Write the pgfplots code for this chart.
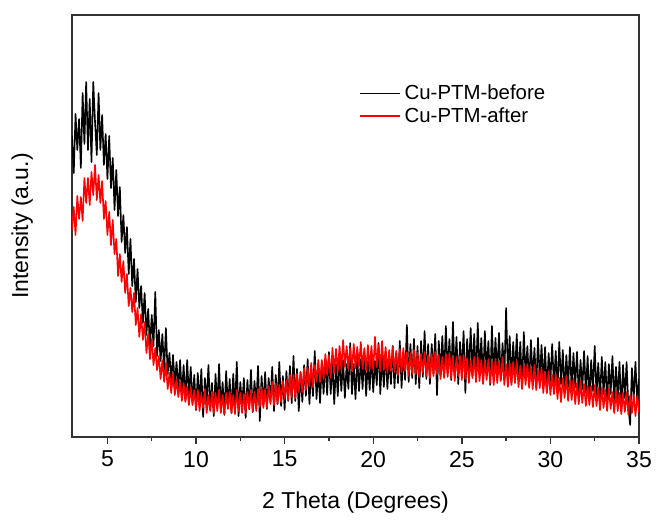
\documentclass[border=0pt]{standalone}
\usepackage{pgfplots}
\usepackage{pgfplotstable}
\usepackage{fontspec}
\setmainfont{Liberation Sans}
\pgfplotsset{compat=1.18}

% 2theta, before, after (intensity in arbitrary units)
\pgfplotstableread{
x b r
3.0 301 207
3.1 264 230
3.2 323 202
3.3 287 241
3.4 318 218
3.5 269 240
3.6 344 216
3.7 293 259
3.8 355 234
3.9 287 259
4.0 338 232
4.1 275 265
4.2 355 242
4.3 315 272
4.4 282 237
4.5 344 262
4.6 287 234
4.7 322 256
4.8 272 218
4.9 303 236
5.0 258 202
5.1 301 225
5.2 249 192
5.3 279 217
5.4 227 183
5.5 267 198
5.6 221 161
5.7 250 183
5.8 195 155
5.9 222 176
6.0 184 144
6.1 210 163
6.2 163 131
6.3 198 149
6.4 151 125
6.5 178 144
6.6 135 112
6.7 168 129
6.8 129 100
6.9 151 123
7.0 114 97
7.1 144 115
7.2 102 84
7.3 128 103
7.4 90 78
7.5 122 98
7.6 91 72
7.7 145 89
7.8 81 67
7.9 107 81
8.0 76 58
8.1 103 77
8.2 67 55
8.3 109 74
8.4 63 48
8.5 84 64
8.6 55 44
8.7 82 63
8.8 53 42
8.9 75 58
9.0 47 40
9.1 77 55
9.2 42 36
9.3 72 54
9.4 36 35
9.5 77 50
9.6 40 32
9.7 70 50
9.8 34 32
9.9 62 47
10.0 27 28
10.1 64 47
10.2 33 26
10.3 68 43
10.4 20 29
10.5 59 48
10.6 34 24
10.7 72 42
10.8 27 26
10.9 54 45
11.0 21 24
11.1 63 44
11.2 29 26
11.3 73 47
11.4 28 24
11.5 55 42
11.6 22 23
11.7 66 44
11.8 30 28
11.9 58 45
12.0 24 24
12.1 63 42
12.2 28 23
12.3 75 47
12.4 21 26
12.5 55 44
12.6 31 24
12.7 59 43
12.8 19 24
12.9 57 45
13.0 28 28
13.1 67 47
13.2 25 26
13.3 56 45
13.4 32 26
13.5 71 48
13.6 16 30
13.7 61 50
13.8 31 29
13.9 65 48
14.0 28 29
14.1 59 51
14.2 35 33
14.3 70 55
14.4 26 32
14.5 62 53
14.6 33 33
14.7 75 52
14.8 31 35
14.9 61 56
15.0 27 38
15.1 66 57
15.2 36 37
15.3 71 62
15.4 34 40
15.5 81 62
15.6 36 39
15.7 68 63
15.8 26 45
15.9 65 65
16.0 35 45
16.1 72 69
16.2 41 47
16.3 78 69
16.4 33 51
16.5 69 74
16.6 41 50
16.7 86 72
16.8 38 55
16.9 69 77
17.0 34 55
17.1 74 77
17.2 43 58
17.3 78 83
17.4 42 62
17.5 85 82
17.6 43 59
17.7 75 89
17.8 33 64
17.9 73 88
18.0 41 65
18.1 80 91
18.2 46 67
18.3 77 97
18.4 39 70
18.5 73 91
18.6 48 68
18.7 94 89
18.8 43 66
18.9 73 93
19.0 38 69
19.1 80 90
19.2 46 71
19.3 78 95
19.4 48 68
19.5 86 89
19.6 41 66
19.7 76 92
19.8 47 68
19.9 83 91
20.0 45 67
20.1 76 100
20.2 52 70
20.3 94 92
20.4 43 66
20.5 81 96
20.6 50 67
20.7 86 90
20.8 48 64
20.9 80 87
21.0 53 66
21.1 91 90
21.2 49 65
21.3 84 86
21.4 54 62
21.5 96 88
21.6 49 65
21.7 85 89
21.8 57 66
21.9 112 85
22.0 55 61
22.1 93 84
22.2 59 63
22.3 98 87
22.4 53 63
22.5 91 84
22.6 49 60
22.7 96 83
22.8 60 64
22.9 106 85
23.0 58 61
23.1 93 82
23.2 53 59
23.3 93 83
23.4 63 61
23.5 103 85
23.6 42 63
23.7 96 82
23.8 62 58
23.9 101 80
24.0 60 59
24.1 111 83
24.2 63 60
24.3 98 84
24.4 57 59
24.5 115 79
24.6 61 56
24.7 100 80
24.8 53 61
24.9 95 81
25.0 64 57
25.1 106 82
25.2 44 58
25.3 98 79
25.4 65 54
25.5 109 77
25.6 61 59
25.7 103 80
25.8 58 55
25.9 114 80
26.0 63 56
26.1 99 77
26.2 56 53
26.3 106 76
26.4 64 57
26.5 96 78
26.6 52 54
26.7 111 75
26.8 60 52
26.9 99 78
27.0 63 54
27.1 104 75
27.2 57 56
27.3 94 80
27.4 59 52
27.5 129 73
27.6 63 50
27.7 101 74
27.8 54 52
27.9 95 75
28.0 61 54
28.1 103 76
28.2 58 50
28.3 95 71
28.4 49 48
28.5 105 72
28.6 60 52
28.7 91 73
28.8 53 49
28.9 97 69
29.0 57 48
29.1 89 72
29.2 49 47
29.3 99 67
29.4 57 49
29.5 92 69
29.6 53 44
29.7 90 65
29.8 44 44
29.9 84 66
30.0 56 42
30.1 93 62
30.2 51 43
30.3 86 63
30.4 47 38
30.5 95 59
30.6 53 35
30.7 87 59
30.8 44 39
30.9 82 61
31.0 50 36
31.1 90 57
31.2 46 37
31.3 84 58
31.4 50 33
31.5 85 54
31.6 42 33
31.7 77 56
31.8 48 34
31.9 86 53
32.0 44 31
32.1 81 51
32.2 36 32
32.3 77 51
32.4 46 30
32.5 91 52
32.6 42 31
32.7 74 49
32.8 38 27
32.9 80 49
33.0 43 29
33.1 75 47
33.2 35 26
33.3 73 49
33.4 43 28
33.5 81 45
33.6 35 24
33.7 70 46
33.8 38 26
33.9 75 44
34.0 26 23
34.1 72 44
34.2 39 25
34.3 75 45
34.4 30 22
34.5 12 42
34.6 69 24
34.7 38 42
34.8 75 21
34.9 35 41
35.0 58 25
}\xrd

\begin{document}
\begin{tikzpicture}
\useasboundingbox (-36pt,-42pt) rectangle (292.5pt,218.5pt);
\begin{axis}[
    at={(0,0)}, anchor=south west,
    scale only axis,
    width=283.5pt, height=211pt,
    xmin=3, xmax=35,
    ymin=0, ymax=422,
    xtick={5,10,15,20,25,30,35},
    minor x tick num=1,
    ytick=\empty,
    tick align=outside,
    xtick pos=bottom,
    major tick length=3.5pt,
    minor tick length=2pt,
    axis line style={line width=0.8pt, black!80},
    every tick/.style={black!80, line width=0.7pt},
    /pgf/number format/assume math mode=true,
    ticklabel style={font=\fontsize{11.5}{13}\selectfont},
    xlabel={2 Theta (Degrees)},
    ylabel={Intensity (a.u.)},
    label style={font=\fontsize{11.5}{13}\selectfont},
    xlabel style={at={(axis description cs:0.5,-0.155)}, anchor=center},
    ylabel style={at={(axis description cs:-0.088,0.5)}, anchor=center},
    legend style={draw=none, fill=none, at={(0.495,0.855)}, anchor=north west,
        font=\fontsize{10.2}{11}\selectfont, row sep=-1.5pt},
    legend cell align=left,
    legend image code/.code={\draw[#1, line width=0.8pt] (0pt,0pt) -- (20pt,0pt);},
]
\addplot[black, line width=0.8pt, line join=round] table[x=x, y=b] {\xrd};
\addlegendentry{Cu-PTM-before}
\addplot[red, line width=0.8pt, line join=round] table[x=x, y=r] {\xrd};
\addlegendentry{Cu-PTM-after}
\end{axis}
\end{tikzpicture}
\end{document}
